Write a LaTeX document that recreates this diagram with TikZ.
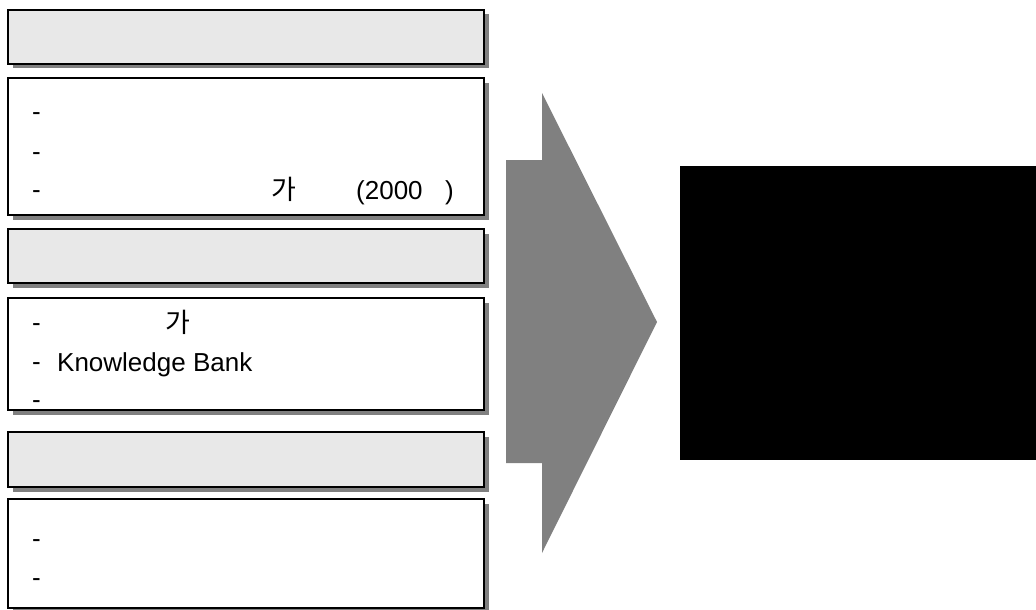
\documentclass[tikz,border=0pt]{standalone}
\usepackage{fontspec}
\setmainfont{Liberation Sans}
\newfontfamily\kr{Noto Sans CJK KR}
\begin{document}
\begin{tikzpicture}[x=1pt,y=-1pt,
  panel/.style={draw=black, line width=1.3pt},
  headpanel/.style={panel, fill=headgray},
  bodypanel/.style={panel, fill=white},
  txt/.style={anchor=base west, inner sep=0pt, font=\fontsize{26}{30}\selectfont},
  krtxt/.style={txt, font=\fontsize{27}{30}\kr}
]
\definecolor{shadowgray}{HTML}{808080}
\definecolor{headgray}{HTML}{E8E8E8}
\useasboundingbox (0,0) rectangle (1036,610);
% boxes: shadow then panel
\foreach \t/\b/\s in {10/64/headpanel, 78/215/bodypanel, 229/283/headpanel, 298/410/bodypanel, 432/487/headpanel, 499/608/bodypanel}{
  \fill[shadowgray] (12.5,\t+4.5) rectangle (488.5,\b+4.5);
  \draw[\s] (8,\t) rectangle (484,\b);
}
\node[inner sep=0pt, minimum width=476pt, minimum height=54pt] (b1) at (246,37) {};
\node[inner sep=0pt, minimum width=476pt, minimum height=137pt] (b2) at (246,146.5) {};
\node[inner sep=0pt, minimum width=476pt, minimum height=54pt] (b3) at (246,256) {};
\node[inner sep=0pt, minimum width=476pt, minimum height=112pt] (b4) at (246,354) {};
\node[inner sep=0pt, minimum width=476pt, minimum height=55pt] (b5) at (246,459.5) {};
\node[inner sep=0pt, minimum width=476pt, minimum height=109pt] (b6) at (246,553.5) {};
% box 2 text
\node[txt] (d21) at (32,121) {-};
\node[txt] (d22) at (32,160) {-};
\node[txt] (d23) at (32,198) {-};
\node[krtxt] (k21) at (271,199) {가};
\node[txt] (y21) at (356,199) {(2000};
\node[txt] (p21) at (445,199) {)};
% box 4 text
\node[txt] (d41) at (32,331) {-};
\node[krtxt] (k41) at (165,332) {가};
\node[txt] (d42) at (32,370) {-};
\node[txt] (kb) at (57,371) {Knowledge Bank};
\node[txt] (d43) at (32,408) {-};
% box 6 text
\node[txt] (d61) at (32,547) {-};
\node[txt] (d62) at (32,586) {-};
% big arrow
\fill[shadowgray] (506,160) -- (542,160) -- (542,93) -- (657,322) -- (542,553) -- (542,463) -- (506,463) -- cycle;
% black result box
\fill[black] (680,166) rectangle (1036,460);
\node[inner sep=0pt, minimum width=356pt, minimum height=294pt] (res) at (858,313) {};
\end{tikzpicture}
\end{document}
